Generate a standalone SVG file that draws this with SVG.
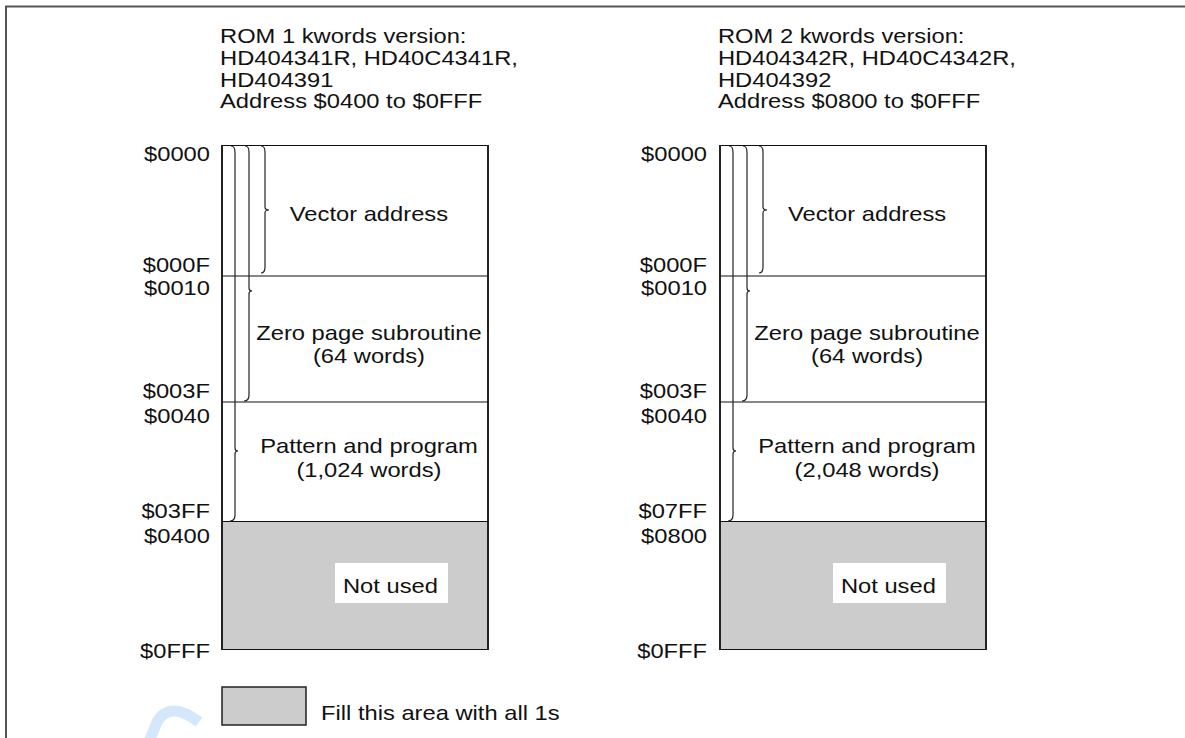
<svg xmlns="http://www.w3.org/2000/svg" width="1185" height="738" viewBox="0 0 1185 738">
<style>
text{font-family:"Liberation Sans",Arial,sans-serif;font-size:21px;fill:#111}
.mid{text-anchor:middle}
.frame{stroke:#555;stroke-width:2;fill:none}
.hl{stroke:#111;stroke-width:1.2}
.vl{stroke:#222;stroke-width:2}
.brace{fill:none;stroke:#222;stroke-width:1.2}
.gray{fill:#cccccc}
</style>
<rect width="1185" height="738" fill="#fff"/>
<path class="frame" d="M6,738 V6.5 H1185"/>
<path d="M149,742 L157,722 Q170,700 199,722" fill="none" stroke="#d5e7fb" stroke-width="11"/>

<g id="rom1">
  <rect class="gray" x="222" y="521.5" width="266" height="128"/>
  <line class="hl" x1="222" y1="145.5" x2="488" y2="145.5"/>
  <line class="hl" x1="222" y1="276" x2="488" y2="276"/>
  <line class="hl" x1="222" y1="402" x2="488" y2="402"/>
  <line class="hl" x1="222" y1="521.5" x2="488" y2="521.5"/>
  <line class="hl" x1="222" y1="649.5" x2="488" y2="649.5"/>
  <line class="vl" x1="222" y1="145" x2="222" y2="650"/>
  <line class="vl" x1="488" y1="145" x2="488" y2="650"/>
  <rect x="335" y="563" width="113" height="40" fill="#fff"/>
  <path class="brace" d="M231,146 Q235,146 235,152 V448 Q235,451 238,451 Q235,451 235,454 V515 Q235,521 230,521"/>
  <path class="brace" d="M245,146 Q249,146 249,152 V288 Q249,291 252,291 Q249,291 249,294 V395 Q249,401 244,401"/>
  <path class="brace" d="M261,146 Q265,146 265,152 V207 Q265,210 269,210 Q265,210 265,213 V267 Q265,273 261,273"/>
</g>

<g id="rom2">
  <rect class="gray" x="720" y="521.5" width="266" height="128"/>
  <line class="hl" x1="720" y1="145.5" x2="986" y2="145.5"/>
  <line class="hl" x1="720" y1="276" x2="986" y2="276"/>
  <line class="hl" x1="720" y1="402" x2="986" y2="402"/>
  <line class="hl" x1="720" y1="521.5" x2="986" y2="521.5"/>
  <line class="hl" x1="720" y1="649.5" x2="986" y2="649.5"/>
  <line class="vl" x1="720" y1="145" x2="720" y2="650"/>
  <line class="vl" x1="986" y1="145" x2="986" y2="650"/>
  <rect x="833" y="563" width="113" height="40" fill="#fff"/>
  <path class="brace" d="M729,146 Q733,146 733,152 V448 Q733,451 736,451 Q733,451 733,454 V515 Q733,521 728,521"/>
  <path class="brace" d="M743,146 Q747,146 747,152 V288 Q747,291 750,291 Q747,291 747,294 V395 Q747,401 742,401"/>
  <path class="brace" d="M759,146 Q763,146 763,152 V207 Q763,210 767,210 Q763,210 763,213 V267 Q763,273 759,273"/>
</g>

<g id="legend">
  <rect class="gray" x="222" y="687" width="84" height="38" stroke="#222" stroke-width="1.5"/>
</g>

<g id="texts" transform="scale(1.13 1)">
  <text x="194.7" y="43">ROM 1 kwords version:</text>
  <text x="194.7" y="65">HD404341R, HD40C4341R,</text>
  <text x="194.7" y="87">HD404391</text>
  <text x="194.7" y="108">Address $0400 to $0FFF</text>
  <g text-anchor="end">
    <text x="185.8" y="161">$0000</text>
    <text x="185.8" y="272">$000F</text>
    <text x="185.8" y="295">$0010</text>
    <text x="185.8" y="398">$003F</text>
    <text x="185.8" y="423">$0040</text>
    <text x="185.8" y="518">$03FF</text>
    <text x="185.8" y="543">$0400</text>
    <text x="185.8" y="658">$0FFF</text>
  </g>
  <text class="mid" x="326.5" y="221">Vector address</text>
  <text class="mid" x="326.5" y="340">Zero page subroutine</text>
  <text class="mid" x="326.5" y="363">(64 words)</text>
  <text class="mid" x="326.5" y="453">Pattern and program</text>
  <text class="mid" x="326.5" y="477">(1,024 words)</text>
  <text x="303.5" y="593">Not used</text>

  <text x="635.4" y="43">ROM 2 kwords version:</text>
  <text x="635.4" y="65">HD404342R, HD40C4342R,</text>
  <text x="635.4" y="87">HD404392</text>
  <text x="635.4" y="108">Address $0800 to $0FFF</text>
  <g text-anchor="end">
    <text x="625.7" y="161">$0000</text>
    <text x="625.7" y="272">$000F</text>
    <text x="625.7" y="295">$0010</text>
    <text x="625.7" y="398">$003F</text>
    <text x="625.7" y="423">$0040</text>
    <text x="625.7" y="518">$07FF</text>
    <text x="625.7" y="543">$0800</text>
    <text x="625.7" y="658">$0FFF</text>
  </g>
  <text class="mid" x="767.3" y="221">Vector address</text>
  <text class="mid" x="767.3" y="340">Zero page subroutine</text>
  <text class="mid" x="767.3" y="363">(64 words)</text>
  <text class="mid" x="767.3" y="453">Pattern and program</text>
  <text class="mid" x="767.3" y="477">(2,048 words)</text>
  <text x="744.2" y="593">Not used</text>

  <text x="284.1" y="720">Fill this area with all 1s</text>
</g>
</svg>
